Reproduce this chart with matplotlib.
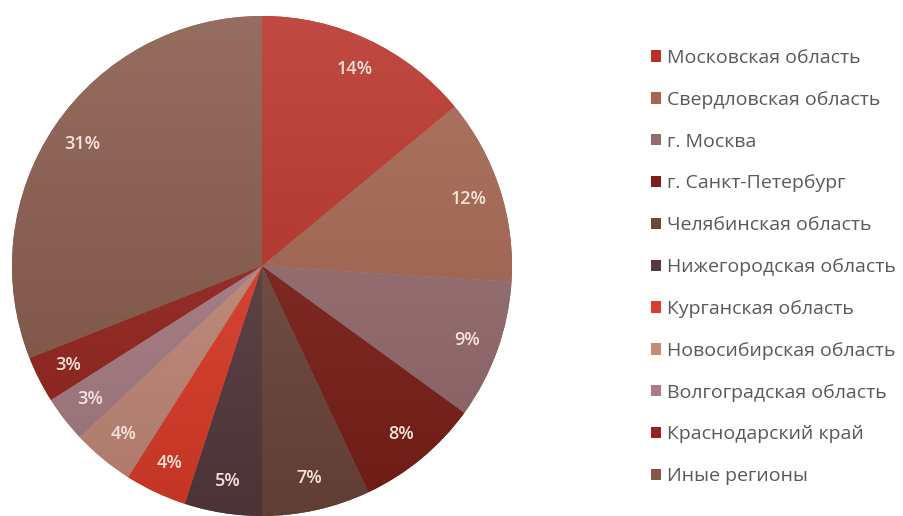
import numpy as np
import matplotlib.pyplot as plt
from matplotlib.colors import to_rgb
from matplotlib.patches import Patch

plt.rcParams['font.family'] = ['Open Sans', 'DejaVu Sans']

# регионы и доли, %
regions = ['Московская область', 'Свердловская область', 'г. Москва',
           'г. Санкт-Петербург', 'Челябинская область', 'Нижегородская область',
           'Курганская область', 'Новосибирская область', 'Волгоградская область',
           'Краснодарский край', 'Иные регионы']
shares = [14, 12, 9, 8, 7, 5, 4, 4, 3, 3, 31]
colors = ['#b83228', '#a5644f', '#966a6e', '#7d1e18', '#6e463c',
          '#573a3e', '#e03c28', '#c48a7a', '#aa7d86', '#96231d', '#87594a']

W, H, DPI = 904, 516, 100
fig = plt.figure(figsize=(W / DPI, H / DPI), dpi=DPI)

cx, cy, r = 262, 266, 250
ax = fig.add_axes([(cx - r) / W, (H - cy - r) / H, 2 * r / W, 2 * r / H])

wedges, texts = ax.pie(shares, colors=colors, startangle=90, counterclock=False,
                       labels=[f'{v}%' for v in shares], labeldistance=0.87,
                       wedgeprops=dict(linewidth=0),
                       textprops=dict(color='#f7e2da', fontsize=13,
                                      fontweight='semibold', ha='center', va='center'))

# вертикальный градиент внутри каждого сектора
yy = np.linspace(1, 0, 256)[:, None]
for w, c in zip(wedges, colors):
    base = np.array(to_rgb(c))
    top = base + (1 - base) * 0.12
    bot = base * 0.88
    grad = top[None, None, :] * yy[..., None] + bot[None, None, :] * (1 - yy[..., None])
    grad = np.repeat(grad, 2, axis=1)
    im = ax.imshow(grad, extent=[-1, 1, -1, 1], origin='upper', zorder=1.5,
                   aspect='auto', interpolation='bilinear')
    im.set_clip_path(w)
for t in texts:
    t.set_zorder(3)

ax.set_xlim(-1, 1)
ax.set_ylim(-1, 1)
ax.axis('off')

handles = [Patch(facecolor=c, edgecolor='none') for c in colors]
fig.legend(handles, regions, loc='upper left', bbox_to_anchor=(651 / W, 1 - 49 / H),
           frameon=False, fontsize=14, labelcolor='#595959',
           handlelength=0.52, handleheight=0.52, handletextpad=0.3,
           labelspacing=1.225, borderaxespad=0, borderpad=0)

fig.savefig('out.png', dpi=DPI)
